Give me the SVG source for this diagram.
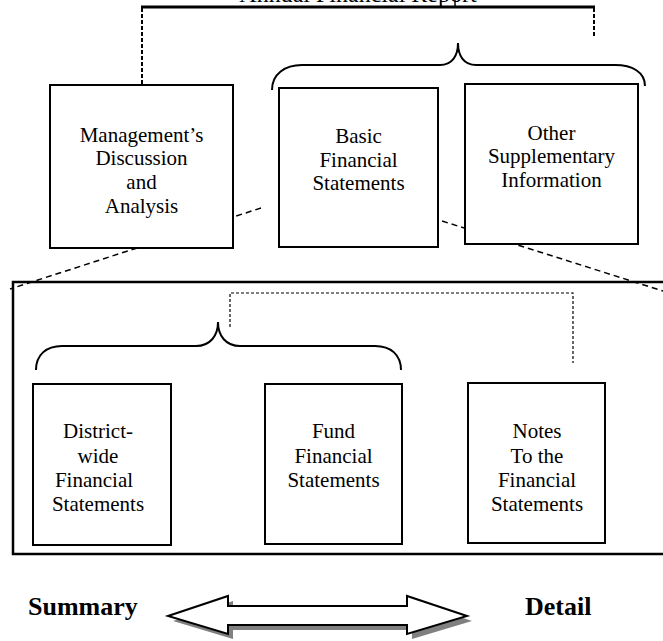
<svg xmlns="http://www.w3.org/2000/svg" width="663" height="641" viewBox="0 0 663 641">
<style>
.box{fill:#fff;stroke:#000;stroke-width:2}
.t{font-family:"Liberation Serif","Tinos","DejaVu Serif",serif;font-weight:normal;font-size:21px;fill:#000;text-anchor:middle}
.b{font-family:"Liberation Serif","Tinos","DejaVu Serif",serif;font-size:26px;font-weight:bold;fill:#000}
.brace{fill:none;stroke:#000;stroke-width:2}
.dash{fill:none;stroke:#000;stroke-width:1.5;stroke-dasharray:6 4}
.vdash{fill:none;stroke:#000;stroke-width:2;stroke-dasharray:4 2}
.fine{fill:none;stroke:#000;stroke-width:1.2;stroke-dasharray:3 2}
</style>
<rect width="663" height="641" fill="#fff"/>
<g id="title">
<text class="t" x="358" y="2" style="font-size:24px">Annual Financial Report</text>
<line x1="455" y1="0" x2="455" y2="7" stroke="#000" stroke-width="1.5"/>
</g>
<g id="frame">
<rect x="13" y="282" width="700" height="272" fill="none" stroke="#000" stroke-width="2.5"/>
</g>
<g id="connectors">
<line x1="141" y1="7" x2="595" y2="7" stroke="#000" stroke-width="3"/>
<line class="vdash" x1="142" y1="8" x2="142" y2="85"/>
<line class="vdash" x1="594" y1="8" x2="594" y2="38"/>
<path class="brace" d="M272,90 C272,74 285,65 302,65 L440,65 C452,65 458,56 458,43 C458,56 464,65 476,65 L615,65 C632,65 645,72 645,86"/>
<line class="dash" x1="261" y1="208" x2="10" y2="289"/>
<line class="dash" x1="423" y1="215" x2="663" y2="291"/>
<path class="brace" d="M36,370 C36,355 46,346 62,346 L196,346 C210,346 218,336 218,322 C218,336 226,346 240,346 L375,346 C391,346 401,355 401,370"/>
<path class="fine" d="M230,327 L230,293 L573,293 L573,363"/>
</g>
<g id="md">
<rect class="box" x="50" y="85" width="183" height="163"/>
<text class="t" x="141.5" y="142">Management’s</text>
<text class="t" x="141.5" y="165">Discussion</text>
<text class="t" x="141.5" y="189">and</text>
<text class="t" x="141.5" y="213">Analysis</text>
</g>
<g id="basic">
<rect class="box" x="279" y="88" width="159" height="159"/>
<text class="t" x="358.5" y="143">Basic</text>
<text class="t" x="358.5" y="167">Financial</text>
<text class="t" x="358.5" y="190">Statements</text>
</g>
<g id="other">
<rect class="box" x="465" y="84" width="173" height="160"/>
<text class="t" x="551.5" y="140">Other</text>
<text class="t" x="551.5" y="163">Supplementary</text>
<text class="t" x="551.5" y="187">Information</text>
</g>
<g id="district">
<rect class="box" x="33" y="384" width="138" height="161"/>
<text class="t" x="98" y="438">District-</text>
<text class="t" x="98" y="463">wide</text>
<text class="t" x="94" y="487">Financial</text>
<text class="t" x="98" y="511">Statements</text>
</g>
<g id="fund">
<rect class="box" x="265" y="384" width="137" height="160"/>
<text class="t" x="333.5" y="438">Fund</text>
<text class="t" x="333.5" y="463">Financial</text>
<text class="t" x="333.5" y="487">Statements</text>
</g>
<g id="notes">
<rect class="box" x="468" y="383" width="137" height="160"/>
<text class="t" x="537" y="438">Notes</text>
<text class="t" x="537" y="463">To the</text>
<text class="t" x="537" y="487">Financial</text>
<text class="t" x="537" y="511">Statements</text>
</g>
<g id="scale">
<text class="b" x="28" y="615">Summary</text>
<text class="b" x="525" y="615">Detail</text>
<polygon points="168,616 228,596 228,606 407,606 407,596 467,616 407,634 407,625 228,625 228,634" fill="#808080" transform="translate(5,5)"/>
<polygon points="168,616 228,596 228,606 407,606 407,596 467,616 407,634 407,625 228,625 228,634" fill="#fff" stroke="#000" stroke-width="2"/>
</g>
</svg>
